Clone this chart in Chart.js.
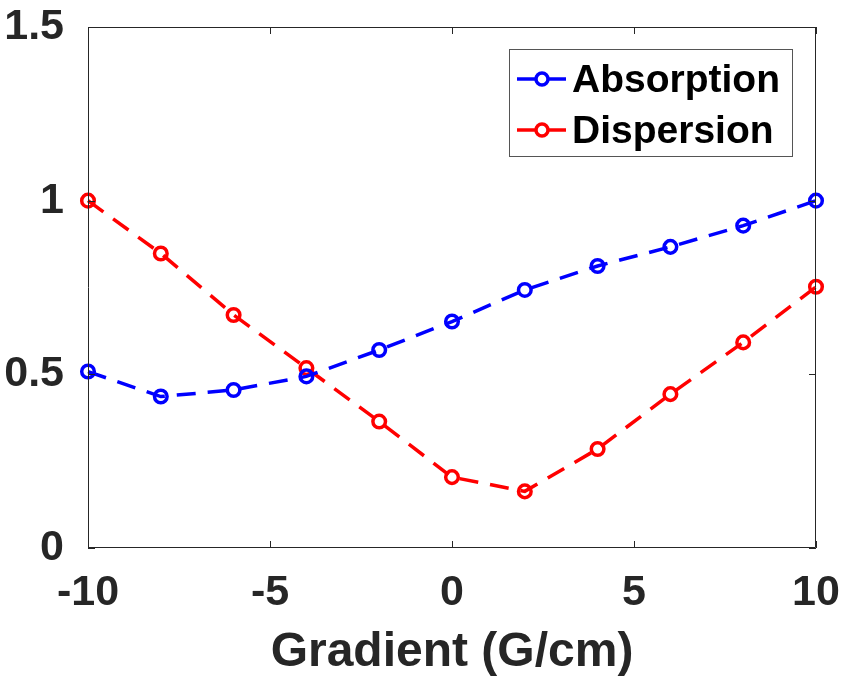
<!DOCTYPE html>
<html>
<head>
<meta charset="utf-8">
<title>Absorption / Dispersion vs Gradient</title>
<script src="https://cdn.jsdelivr.net/npm/chart.js"></script>
<style>
  html, body { margin: 0; padding: 0; background: #fff; }
  #wrap { width: 842px; height: 677px; }
</style>
</head>
<body>
<div id="wrap">
  <canvas id="myChart" width="842" height="677"></canvas>
</div>

<script>
// values
const gradient   = [-10, -8, -6, -4, -2, 0, 2, 4, 6, 8, 10];
const absorption = [0.508, 0.436, 0.455, 0.494, 0.570, 0.652, 0.743, 0.812, 0.867, 0.928, 1.0];
const dispersion = [1.0, 0.848, 0.671, 0.518, 0.364, 0.204, 0.163, 0.285, 0.443, 0.592, 0.752];
const seriesNames = ['Absorption', 'Dispersion'];
const xTicks = [-10, -5, 0, 5, 10];
const yTicks = [0, 0.5, 1, 1.5];

const BLUE = '#0000ff';
const RED = '#ff0000';
const AXIS = '#262626';
const FONT = '"Liberation Sans", Arial, sans-serif';

function pts(ys) {
  return gradient.map((x, i) => ({ x: x, y: ys[i] }));
}

// box + inward tick marks, matlab style
const boxTicks = {
  id: 'boxTicks',
  afterDraw(chart) {
    const { ctx, chartArea: a, scales } = chart;
    const len = 7;
    ctx.save();
    ctx.strokeStyle = AXIS;
    ctx.lineWidth = 1;
    ctx.beginPath();
    ctx.rect(a.left + 0.5, a.top + 0.5, a.right - a.left - 1, a.bottom - a.top - 1);
    xTicks.forEach(v => {
      const px = Math.round(scales.x.getPixelForValue(v)) + 0.5;
      ctx.moveTo(px, a.bottom); ctx.lineTo(px, a.bottom - len);
      ctx.moveTo(px, a.top); ctx.lineTo(px, a.top + len);
    });
    yTicks.forEach(v => {
      const py = Math.round(scales.y.getPixelForValue(v)) + 0.5;
      ctx.moveTo(a.left, py); ctx.lineTo(a.left + len, py);
      ctx.moveTo(a.right, py); ctx.lineTo(a.right - len, py);
    });
    ctx.stroke();
    ctx.restore();
  }
};

// legend box inside the plot, top right
const boxLegend = {
  id: 'boxLegend',
  afterDraw(chart) {
    const { ctx, chartArea: a } = chart;
    const w = 284, h = 108;
    const x0 = a.right - 23 - w, y0 = a.top + 22;
    ctx.save();
    ctx.fillStyle = '#fff';
    ctx.fillRect(x0, y0, w, h);
    ctx.strokeStyle = '#555';
    ctx.lineWidth = 1;
    ctx.strokeRect(x0 + 0.5, y0 + 0.5, w - 1, h - 1);
    ctx.font = 'bold 39px ' + FONT;
    ctx.textBaseline = 'middle';
    ctx.textAlign = 'left';
    chart.data.datasets.forEach((ds, i) => {
      const cy = y0 + 30 + i * 51;
      ctx.strokeStyle = ds.borderColor;
      ctx.lineWidth = 3.5;
      ctx.beginPath();
      ctx.moveTo(x0 + 8, cy); ctx.lineTo(x0 + 57, cy);
      ctx.stroke();
      ctx.fillStyle = '#fff';
      ctx.beginPath();
      ctx.arc(x0 + 33, cy, 6, 0, Math.PI * 2);
      ctx.fill();
      ctx.stroke();
      ctx.fillStyle = '#000';
      ctx.fillText(ds.label, x0 + 63, cy + 2);
    });
    ctx.restore();
  }
};

const ctx = document.getElementById('myChart');

new Chart(ctx, {
  type: 'line',
  data: {
    datasets: [{
      label: seriesNames[0],
      data: pts(absorption),
      borderColor: BLUE,
      borderWidth: 3.5,
      borderDash: [19, 12],
      pointRadius: 6.3,
      pointBorderWidth: 3.5,
      pointBorderColor: BLUE,
      pointBackgroundColor: 'rgba(0,0,0,0)',
      clip: false
    }, {
      label: seriesNames[1],
      data: pts(dispersion),
      borderColor: RED,
      borderWidth: 3.5,
      borderDash: [19, 12],
      pointRadius: 6.3,
      pointBorderWidth: 3.5,
      pointBorderColor: RED,
      pointBackgroundColor: 'rgba(0,0,0,0)',
      clip: false
    }]
  },
  options: {
    responsive: false,
    animation: false,
    layout: { padding: { left: 0, right: 26, top: 27, bottom: 0 } },
    plugins: {
      legend: { display: false },
      tooltip: { enabled: false }
    },
    scales: {
      x: {
        type: 'linear',
        min: -10,
        max: 10,
        afterFit(s) { s.height = 129; s.paddingLeft = 0; s.paddingRight = 0; },
        afterBuildTicks(s) { s.ticks = xTicks.map(v => ({ value: v })); },
        grid: { display: false },
        border: { display: false },
        ticks: {
          padding: 11,
          color: AXIS,
          maxRotation: 0,
          callback: v => String(v),
          font: { family: FONT, size: 43, weight: 'bold' }
        },
        title: {
          display: true,
          text: 'Gradient (G/cm)',
          color: AXIS,
          padding: { top: 0, bottom: 0 },
          font: { family: FONT, size: 48, weight: 'bold', lineHeight: 1 }
        }
      },
      y: {
        min: 0,
        max: 1.5,
        afterFit(s) { s.width = 88; s.paddingTop = 0; s.paddingBottom = 0; },
        afterBuildTicks(s) { s.ticks = yTicks.map(v => ({ value: v })); },
        grid: { display: false },
        border: { display: false },
        ticks: {
          padding: 16,
          color: AXIS,
          callback: v => String(v),
          font: { family: FONT, size: 43, weight: 'bold' }
        }
      }
    }
  },
  plugins: [boxTicks, boxLegend]
});
</script>
</body>
</html>
